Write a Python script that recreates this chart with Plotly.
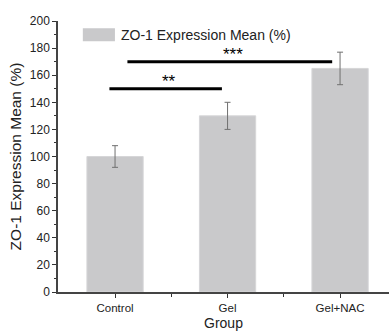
import plotly.graph_objects as go

groups = ["Control", "Gel", "Gel+NAC"]
means = [100, 130, 165]
errors = [8, 10, 12]
series_name = "ZO-1 Expression Mean (%)"
sig_labels = ["**", "***"]
sig_starts = [-0.05, 0.11]
sig_ends = [0.95, 1.93]
sig_levels = [150, 170]

x = list(range(len(groups)))
bar_color = "#c9c9cb"

fig = go.Figure()
fig.add_trace(go.Bar(
    x=x, y=means, width=0.5,
    marker=dict(color=bar_color, line=dict(color="#d6d6d8", width=1)),
    error_y=dict(type="data", array=errors, color="#707070", thickness=1, width=3),
    name=series_name, showlegend=False,
))

for lab, s, e, lv in zip(sig_labels, sig_starts, sig_ends, sig_levels):
    fig.add_shape(type="line", x0=s, x1=e, y0=lv, y1=lv, xref="x", yref="y",
                  line=dict(color="black", width=3))
    fig.add_annotation(x=(s + e) / 2 + 0.03, y=lv, text=lab, showarrow=False,
                       yanchor="bottom", yshift=-4, font=dict(size=17, color="black"))

# legend drawn manually (swatch + text)
fig.add_shape(type="rect", xref="paper", yref="paper",
              x0=0.075, x1=0.172, y0=0.925, y1=0.973,
              fillcolor=bar_color, line=dict(width=0))
fig.add_annotation(xref="paper", yref="paper", x=0.185, y=0.949, text=series_name,
                   showarrow=False, xanchor="left", yanchor="middle",
                   font=dict(size=14, color="#222"))

fig.update_layout(
    width=389, height=331,
    margin=dict(l=58, r=0, t=21, b=39),
    plot_bgcolor="white", paper_bgcolor="white",
    font=dict(family="Liberation Sans, Arial, sans-serif", color="#222"),
    showlegend=False,
    xaxis=dict(
        range=[-0.507, 2.435], tickmode="array", tickvals=x, ticktext=groups,
        ticks="outside", ticklen=4, tickcolor="#333", showline=True, linecolor="#444",
        linewidth=1.5, showgrid=False, zeroline=False, tickfont=dict(size=11.5),
        minor=dict(tickvals=[0.5, 1.5], ticks="outside", ticklen=3, tickcolor="#333"),
        title=dict(text="Group", font=dict(size=14), standoff=9),
    ),
    yaxis=dict(
        range=[0, 200], tickmode="linear", tick0=0, dtick=20,
        ticks="outside", ticklen=4, tickcolor="#333", showline=True, linecolor="#444",
        linewidth=1.5, showgrid=False, zeroline=False, tickfont=dict(size=12),
        minor=dict(dtick=10, ticks="outside", ticklen=2, tickcolor="#333"),
        title=dict(text="ZO-1 Expression Mean (%)", font=dict(size=15.5), standoff=4),
    ),
)

fig.write_html("out.html")
